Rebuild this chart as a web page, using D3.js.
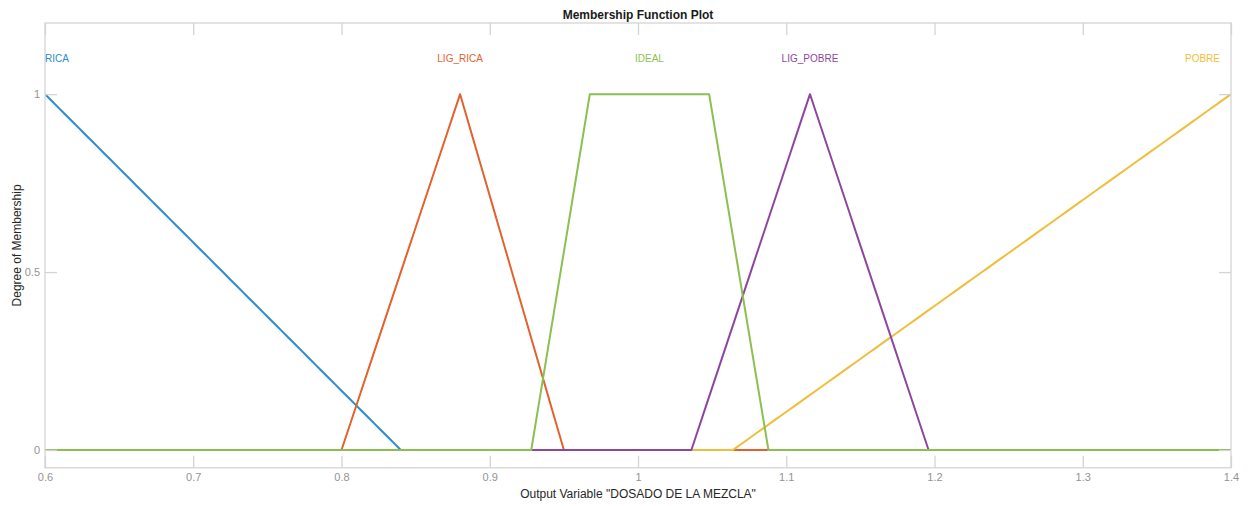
<!DOCTYPE html>
<html>
<head>
<meta charset="utf-8">
<script src="https://cdn.jsdelivr.net/npm/d3@7"></script>
<style>
  html, body { margin: 0; padding: 0; background: #fff; }
  svg { display: block; font-family: "Liberation Sans", Arial, Helvetica, sans-serif; }
</style>
</head>
<body>
<svg id="chart" width="1248" height="506"></svg>
<script>
// Membership functions of the output variable
const mfNames  = ["RICA", "LIG_RICA", "IDEAL", "LIG_POBRE", "POBRE"];
const mfTypes  = ["trimf", "trimf", "trapmf", "trimf", "trimf"];
const mfParams = [
  [0.36, 0.6, 0.84],
  [0.8, 0.88, 0.95],
  [0.928, 0.9675, 1.048, 1.088],
  [1.036, 1.116, 1.196],
  [1.064, 1.4, 1.736]
];
const mfColors = ["#2a8ccc", "#e2622e", "#8bbf50", "#8f45a0", "#f0bd3c"];
// stacking order of the curves (first = bottom)
const drawOrder = [0, 1, 4, 3, 2];

const xRange = [0.6, 1.4];
const xTicks = [0.6, 0.7, 0.8, 0.9, 1, 1.1, 1.2, 1.3, 1.4];
const yTicks = [0, 0.5, 1];
const titleText = "Membership Function Plot";
const xLabelText = "Output Variable \"DOSADO DE LA MEZCLA\"";
const yLabelText = "Degree of Membership";
const nPoints = 181;

const svg = d3.select("#chart");
const W = 1248;
const plotLeft = 45, plotRight = 1231, plotTop = 23, plotBottom = 467.79;
const x = d3.scaleLinear().domain(xRange).range([plotLeft, plotRight]);
const y = d3.scaleLinear().domain([-0.05, 1.2]).range([plotBottom, plotTop]);

function evalMF(type, p, v) {
  if (type === "trimf") {
    const [a, b, c] = p;
    const l = b === a ? (v >= a ? 1 : 0) : (v - a) / (b - a);
    const r = c === b ? (v <= c ? 1 : 0) : (c - v) / (c - b);
    return Math.max(0, Math.min(l, r));
  } else {
    const [a, b, c, d] = p;
    const l = b === a ? 1 : (v - a) / (b - a);
    const r = d === c ? 1 : (d - v) / (d - c);
    return Math.max(0, Math.min(l, 1, r));
  }
}

const grey = "#d4d4d4";
const tickText = "#939393";
const tickLen = 12;
const x0 = x.range()[0], x1 = x.range()[1];
const yB = y.range()[0], yT = y.range()[1];

// Curves
const line = d3.line().x(d => x(d[0])).y(d => y(d[1]));
svg.append("clipPath").attr("id", "plotClip")
  .append("rect").attr("x", x0).attr("y", yT).attr("width", x1 - x0).attr("height", yB - yT);
const curves = svg.append("g").attr("clip-path", "url(#plotClip)");

drawOrder.forEach(i => {
  const base = d3.range(nPoints).map(k => xRange[0] + k * (xRange[1] - xRange[0]) / (nPoints - 1));
  const pts = base.concat(mfParams[i].filter(v => v >= xRange[0] && v <= xRange[1]))
    .sort((a, b) => a - b)
    .map(v => [v, evalMF(mfTypes[i], mfParams[i], v)]);
  curves.append("path")
    .attr("d", line(pts))
    .attr("fill", "none")
    .attr("stroke", mfColors[i])
    .attr("stroke-width", 2)
    .attr("stroke-linejoin", "round");
});

// Axes box
svg.append("rect")
  .attr("x", x0).attr("y", yT).attr("width", x1 - x0).attr("height", yB - yT)
  .attr("fill", "none").attr("stroke", grey).attr("stroke-width", 1.3);

// Bottom axis with inward ticks
const xAxisB = d3.axisBottom(x).tickValues(xTicks).tickSizeInner(-tickLen).tickSizeOuter(0)
  .tickPadding(5).tickFormat(d3.format("~g"));
const gxb = svg.append("g").attr("transform", `translate(0,${yB})`).call(xAxisB);
// Top axis ticks (no labels)
const xAxisT = d3.axisTop(x).tickValues(xTicks).tickSizeInner(-tickLen).tickSizeOuter(0).tickFormat("");
const gxt = svg.append("g").attr("transform", `translate(0,${yT})`).call(xAxisT);
// Left axis
const yAxisL = d3.axisLeft(y).tickValues(yTicks).tickSizeInner(-tickLen).tickSizeOuter(0)
  .tickPadding(5).tickFormat(d3.format("~g"));
const gyl = svg.append("g").attr("transform", `translate(${x0},0)`).call(yAxisL);
// Right axis ticks (no labels)
const yAxisR = d3.axisRight(y).tickValues(yTicks).tickSizeInner(-tickLen).tickSizeOuter(0).tickFormat("");
const gyr = svg.append("g").attr("transform", `translate(${x1},0)`).call(yAxisR);

[gxb, gxt, gyl, gyr].forEach(g => {
  g.attr("font-size", 11).attr("font-family", "\"Liberation Sans\", Arial, sans-serif");
  g.select(".domain").remove();
  g.selectAll(".tick line").attr("stroke", grey).attr("stroke-width", 1.3);
  g.selectAll(".tick text").attr("fill", tickText);
});

// MF labels above each peak
const labels = svg.append("g");
mfNames.forEach((name, i) => {
  const p = mfParams[i];
  const peak = mfTypes[i] === "trimf" ? p[1] : (p[1] + p[2]) / 2;
  const t = labels.append("text")
    .attr("y", y(1.1))
    .attr("dy", "0.35em")
    .attr("font-size", 10)
    .attr("fill", mfColors[i])
    .text(name);
  const w = t.node().getComputedTextLength();
  let cx = x(peak);
  cx = Math.max(x0 + w / 2, Math.min(x1 - 11 - w / 2, cx));
  t.attr("x", cx).attr("text-anchor", "middle");
});

// Title and axis labels
svg.append("text")
  .attr("x", (x0 + x1) / 2).attr("y", 15).attr("dy", "0.35em")
  .attr("text-anchor", "middle").attr("font-size", 12).attr("font-weight", "bold")
  .attr("fill", "#1a1a1a").text(titleText);
svg.append("text")
  .attr("x", (x0 + x1) / 2).attr("y", 494).attr("dy", "0.35em")
  .attr("text-anchor", "middle").attr("font-size", 12)
  .attr("fill", "#262626").text(xLabelText);
svg.append("text")
  .attr("transform", `translate(17,${(yT + yB) / 2}) rotate(-90)`)
  .attr("dy", "0.35em")
  .attr("text-anchor", "middle").attr("font-size", 12)
  .attr("fill", "#262626").text(yLabelText);
</script>
</body>
</html>
